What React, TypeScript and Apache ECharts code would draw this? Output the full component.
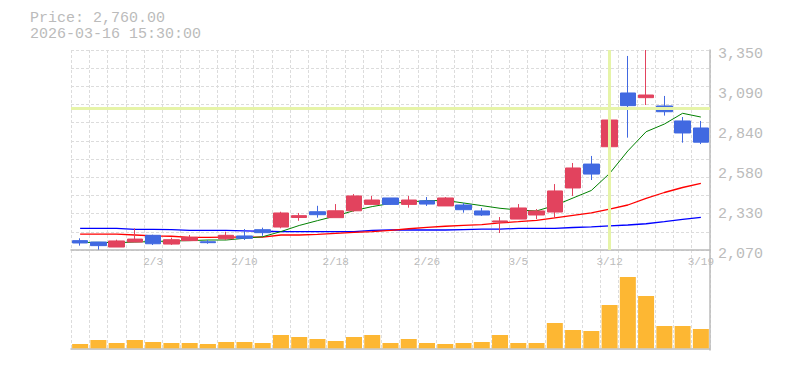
import React, { useEffect, useRef } from 'react';
import * as echarts from 'echarts';

const dates = ['1/28','1/29','1/30','2/2','2/3','2/4','2/5','2/6','2/9','2/10','2/11','2/12','2/13','2/17','2/18','2/19','2/20','2/23','2/24','2/26','2/27','3/2','3/3','3/4','3/5','3/6','3/9','3/10','3/11','3/12','3/13','3/16','3/17','3/18','3/19'];
const tickLabels = ['2/3','2/10','2/18','2/26','3/5','3/12','3/19'];

const opens  = [2130,2121,2089,2121,2164,2108,2130,2123,2142,2160,2200,2217,2278,2315,2277,2321,2362,2403,2362,2385,2352,2358,2320,2249,2268,2294,2313,2467,2620,2731,3075,3045,2992,2896,2851];
const closes = [2115,2098,2128,2140,2110,2136,2151,2117,2164,2145,2181,2307,2290,2296,2321,2416,2390,2362,2390,2364,2403,2328,2294,2256,2339,2320,2448,2595,2556,2902,2994,3062,2955,2819,2760];
const lows   = [2098,2072,2089,2121,2102,2102,2130,2110,2134,2134,2161,2209,2257,2277,2277,2315,2362,2358,2341,2352,2352,2309,2288,2179,2268,2268,2275,2416,2518,2661,2789,2998,2930,2757,2748];
const highs  = [2145,2121,2136,2209,2168,2149,2166,2134,2187,2204,2213,2315,2307,2353,2364,2428,2416,2403,2416,2409,2409,2371,2339,2281,2364,2332,2492,2627,2672,3049,3312,3350,3056,2921,2896];

const volumes = [43,83,53,83,63,53,53,43,63,63,53,133,113,93,73,113,133,53,93,53,43,53,63,133,53,53,253,183,173,433,713,523,223,223,193];

const maShort = [2118,2119,2117,2121,2124,2128,2130,2134,2134,2145,2155,2188,2227,2258,2288,2322,2348,2368,2377,2386,2387,2371,2354,2337,2326,2320,2355,2403,2451,2560,2704,2827,2876,2945,2921];
const maMid   = [2172,2172,2172,2166,2160,2158,2151,2151,2153,2153,2153,2166,2166,2170,2177,2183,2187,2196,2206,2215,2222,2228,2233,2243,2251,2260,2275,2291,2307,2332,2358,2400,2438,2470,2497];
const maLong  = [2209,2209,2208,2202,2202,2201,2196,2196,2195,2193,2190,2188,2187,2187,2187,2188,2196,2198,2198,2198,2198,2201,2204,2204,2208,2209,2209,2214,2218,2224,2230,2238,2251,2266,2279];

const priceMin = 2070;
const priceMax = 3350;
const priceStep = 256;
const volumeMin = -17;
const volumeMax = 983;

const headerPrice = 'Price: 2,760.00';
const headerTime = '2026-03-16 15:30:00';
const crossDate = '3/12';
const crossPrice = 2979;

const FONT = '"Liberation Mono", "Courier New", monospace';
const GREY = '#bbbbbb';
const GRID_LINE = '#dcdcdc';

export default function App() {
  const ref = useRef<HTMLDivElement>(null);
  useEffect(() => {
    if (!ref.current) return;
    const chart = echarts.init(ref.current, undefined, { renderer: 'svg' });
    const candleData = dates.map((_, i) => [opens[i], closes[i], lows[i], highs[i]]);
    const dashed = { color: GRID_LINE, width: 1, type: [3, 2] as any };
    chart.setOption({
      animation: false,
      title: {
        text: headerPrice + '\n' + headerTime,
        left: 30,
        top: 10,
        padding: 0,
        textStyle: { fontFamily: FONT, fontSize: 15, fontWeight: 'normal', color: GREY, lineHeight: 16 },
      },
      grid: [
        { left: 71, right: 75, top: 50, height: 200 },
        { left: 71, right: 75, top: 250, height: 100 },
      ],
      xAxis: [
        {
          type: 'category', gridIndex: 0, data: dates, boundaryGap: true,
          axisLine: { show: true, lineStyle: { color: GREY, width: 1.5 } },
          axisTick: { show: false },
          axisLabel: {
            interval: (_i: number, v: string) => tickLabels.includes(v),
            color: GREY, fontFamily: FONT, fontSize: 11, margin: 6,
          },
          splitLine: { show: true, interval: 0, lineStyle: dashed },
        },
        {
          type: 'category', gridIndex: 1, data: dates, boundaryGap: true,
          axisLine: { show: true, lineStyle: { color: GREY, width: 1.5 } },
          axisTick: { show: false },
          axisLabel: { show: false },
          splitLine: { show: true, interval: 0, lineStyle: dashed },
        },
      ],
      yAxis: [
        {
          type: 'value', gridIndex: 0, position: 'right', min: priceMin, max: priceMax, interval: priceStep,
          axisLine: { show: true, lineStyle: { color: GREY, width: 1.5 } },
          axisTick: { show: false },
          splitLine: { show: false },
          axisLabel: {
            color: GREY, fontFamily: FONT, fontSize: 15, margin: 8,
            showMinLabel: true, showMaxLabel: true,
            verticalAlign: 'top', lineHeight: 8,
            formatter: (v: number) => (Math.round(v / 10) * 10).toLocaleString('en-US'),
          },
        },
        {
          type: 'value', gridIndex: 0, position: 'left', min: 0, max: 11, interval: 1,
          axisLine: { show: false }, axisTick: { show: false }, axisLabel: { show: false },
          splitLine: { show: true, lineStyle: dashed },
        },
        {
          type: 'value', gridIndex: 1, position: 'right', min: volumeMin, max: volumeMax,
          axisLine: { show: true, lineStyle: { color: GREY, width: 1.5 } },
          axisTick: { show: false }, axisLabel: { show: false },
          splitLine: { show: false },
        },
      ],
      series: [
        {
          type: 'line', xAxisIndex: 0, yAxisIndex: 0, data: [], z: 1, silent: true,
          markLine: {
            silent: true, symbol: ['none', 'none'], label: { show: false },
            lineStyle: { color: '#e6f4a8', width: 3, type: 'solid' },
            data: [{ xAxis: crossDate }, { yAxis: crossPrice }],
          },
        },
        { type: 'line', name: 'MA long', xAxisIndex: 0, yAxisIndex: 0, data: maLong, z: 2, showSymbol: false, symbol: 'none', lineStyle: { color: '#0000ff', width: 1.3 } },
        { type: 'line', name: 'MA mid', xAxisIndex: 0, yAxisIndex: 0, data: maMid, z: 2, showSymbol: false, symbol: 'none', lineStyle: { color: '#ff0000', width: 1.3 } },
        { type: 'line', name: 'MA short', xAxisIndex: 0, yAxisIndex: 0, data: maShort, z: 2, showSymbol: false, symbol: 'none', lineStyle: { color: '#008000', width: 1 } },
        {
          type: 'candlestick', xAxisIndex: 0, yAxisIndex: 0, data: candleData, z: 3, barWidth: 16,
          itemStyle: { color: '#e2435e', color0: '#4169e1', borderColor: '#e2435e', borderColor0: '#4169e1', borderWidth: 1 },
        },
        {
          type: 'bar', xAxisIndex: 1, yAxisIndex: 2, data: volumes, barWidth: 16,
          itemStyle: { color: '#fdb733' },
        },
      ],
    });
    return () => chart.dispose();
  }, []);
  return <div ref={ref} style={{ position: 'absolute', left: 0, top: 0, width: 785, height: 370 }} />;
}
